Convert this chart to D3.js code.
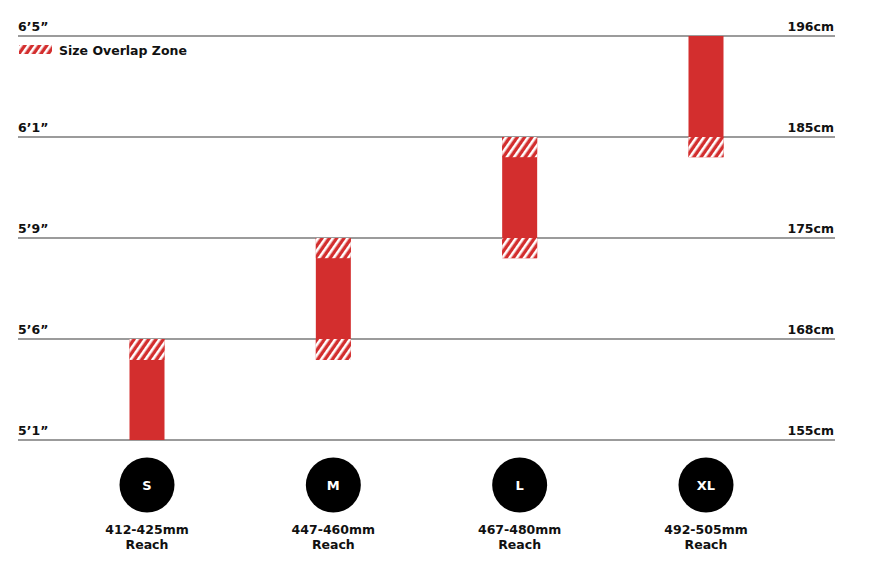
<!DOCTYPE html>
<html><head><meta charset="utf-8">
<script src="https://cdn.jsdelivr.net/npm/d3@7"></script>
<style>
body{margin:0;background:#fff;}
text{font-family:"DejaVu Sans",sans-serif;font-weight:700;}
</style></head>
<body><svg id="chart" width="878" height="574"></svg>
<script>
// Data
const sizes = ["S","M","L","XL"];
const reach = ["412-425mm","447-460mm","467-480mm","492-505mm"];
const heightCm = [155,168,175,185,196];
const heightFt = ["5’1”","5’6”","5’9”","6’1”","6’5”"];
const heightMin = [155,165.3,173.6,183];
const heightMax = [168,175,185,196];
const overlaps = [[165.3,168],[173.6,175],[183,185]];

const svg = d3.select("#chart");
const red = "#d32e2e";

const y = d3.scaleLinear().domain(heightCm).range([440,339,238,137,36]);
const x = d3.scalePoint().domain(sizes).range([147,706]);
const barW = 35;

const defs = svg.append("defs");
const pat = defs.append("pattern").attr("id","hatch").attr("patternUnits","userSpaceOnUse")
  .attr("width",6).attr("height",6).attr("patternTransform","rotate(35)");
pat.append("rect").attr("width",6).attr("height",6).attr("fill",red);
pat.append("rect").attr("width",2.6).attr("height",6).attr("fill","#fff");

// grid lines
svg.append("g").selectAll("line").data(heightCm).join("line")
  .attr("x1",18).attr("x2",835).attr("y1",d=>y(d)).attr("y2",d=>y(d))
  .attr("stroke","#7a7a7a").attr("stroke-width",1.6);

svg.append("g").selectAll("text").data(heightFt).join("text")
  .attr("x",18).attr("y",(d,i)=>y(heightCm[i])-5).attr("font-size",12.5).attr("fill","#111").text(d=>d);
svg.append("g").selectAll("text").data(heightCm).join("text")
  .attr("x",834).attr("y",d=>y(d)-5).attr("text-anchor","end").attr("font-size",12.5).attr("fill","#111").text(d=>d+"cm");

// bars
const bars = svg.append("g");
sizes.forEach((s,i)=>{
  bars.append("rect").attr("x",x(s)-barW/2).attr("width",barW)
    .attr("y",y(heightMax[i])).attr("height",y(heightMin[i])-y(heightMax[i])).attr("fill",red);
  overlaps.forEach(o=>{
    if(o[0]>=heightMin[i]-0.01 && o[1]<=heightMax[i]+0.01){
      bars.append("rect").attr("x",x(s)-barW/2).attr("width",barW)
        .attr("y",y(o[1])).attr("height",y(o[0])-y(o[1])).attr("fill","url(#hatch)");
    }
  });
});

// legend
svg.append("rect").attr("x",19).attr("y",45).attr("width",33).attr("height",9).attr("fill","url(#hatch)");
svg.append("text").attr("x",59).attr("y",55).attr("font-size",12.5).attr("fill","#111").text("Size Overlap Zone");

// size circles
const g = svg.append("g").selectAll("g").data(sizes).join("g").attr("transform",d=>`translate(${x(d)},0)`);
g.append("circle").attr("cy",485).attr("r",27.5).attr("fill","#000");
g.append("text").attr("y",490).attr("text-anchor","middle").attr("fill","#fff").attr("font-size",13).text(d=>d);
g.append("text").attr("y",534).attr("text-anchor","middle").attr("fill","#111").attr("font-size",12.5).text((d,i)=>reach[i]);
g.append("text").attr("y",549).attr("text-anchor","middle").attr("fill","#111").attr("font-size",12.5).text("Reach");
</script></body></html>
